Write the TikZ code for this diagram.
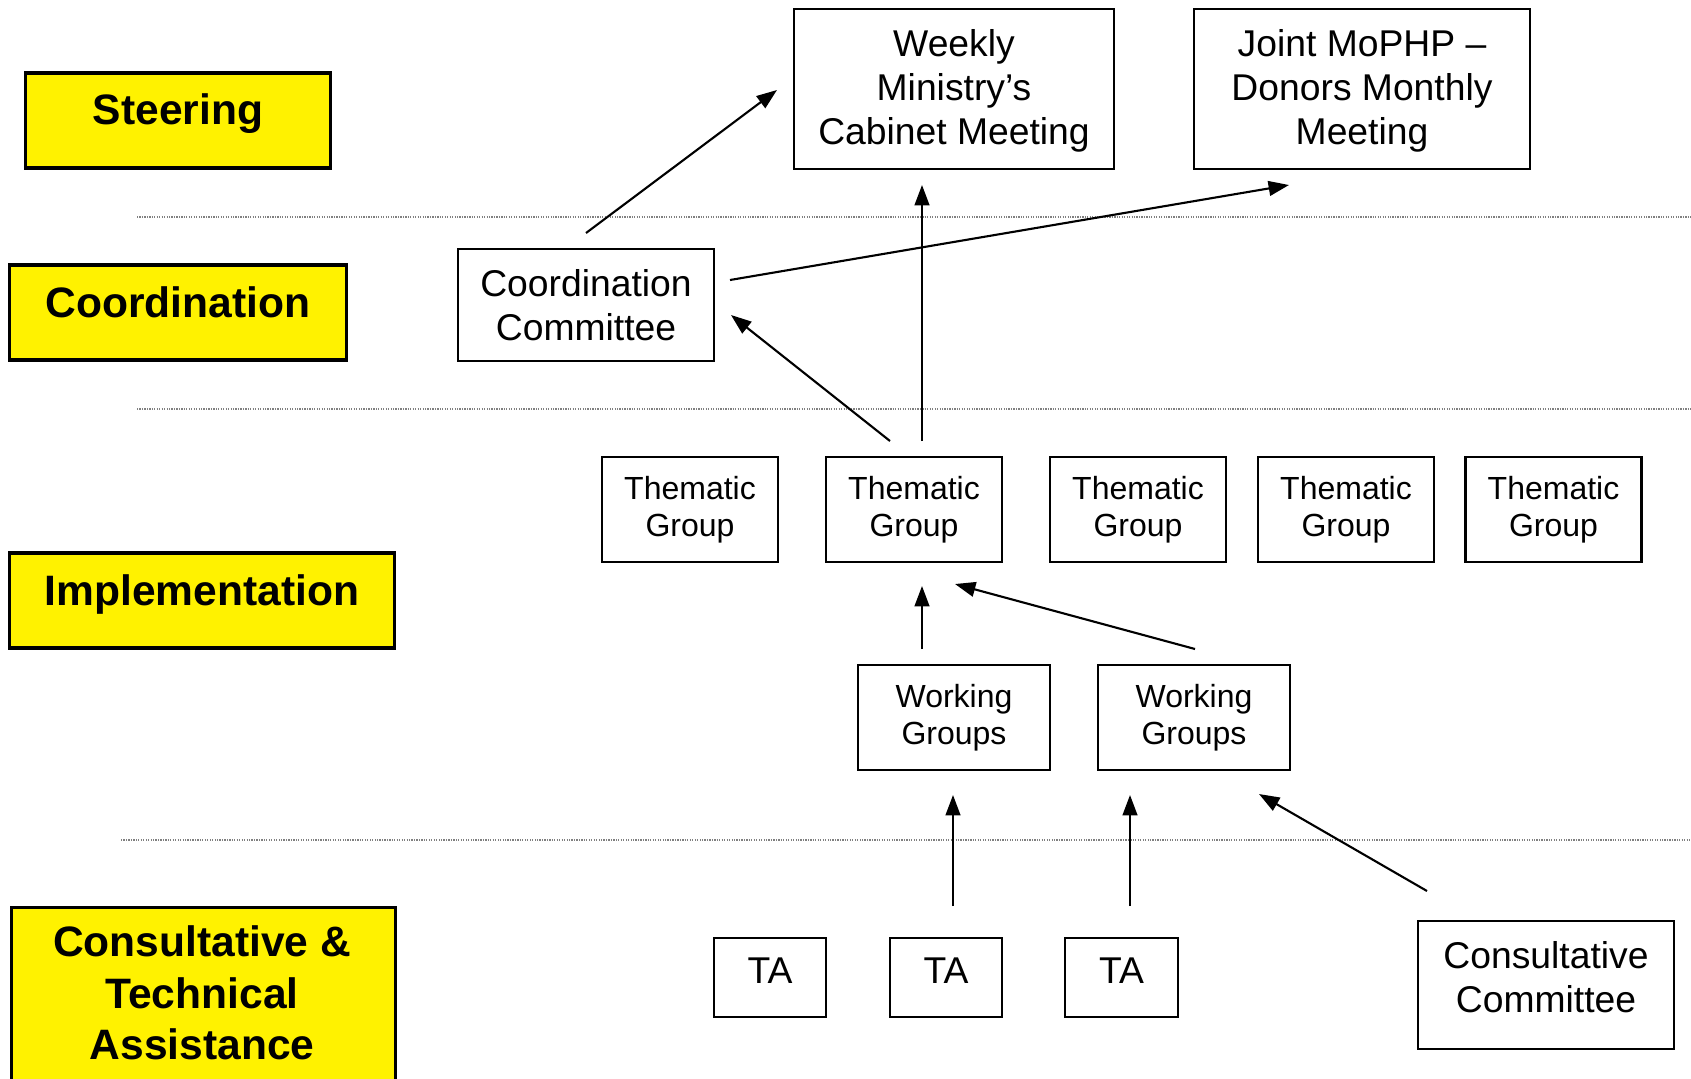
\documentclass[tikz,border=0pt]{standalone}
\usepackage{fontspec}
\setmainfont{Liberation Sans}
\usetikzlibrary{arrows.meta}
\begin{document}
\begin{tikzpicture}[x=0.01cm,y=-0.01cm,
  box/.style={draw, line width=0.75pt, inner sep=0pt, align=center, font=\fontsize{10.6}{12.5}\selectfont},
  sbox/.style={box, font=\fontsize{9.1}{10.5}\selectfont},
  ybox/.style={draw, line width=0.9pt, fill=yellow, inner sep=0pt},
  ytext/.style={font=\bfseries\fontsize{12.1}{14.7}\selectfont, align=center, inner sep=0pt},
  arr/.style={-{Triangle[length=5.8pt,width=4.2pt]}, line width=0.6pt},
  sepline/.style={draw=gray, line width=0.35pt, dash pattern=on 0.35pt off 0.35pt}]
\useasboundingbox (0,0) rectangle (1691,1078);
\clip (0,0) rectangle (1691,1078);

% separator lines
\draw[sepline] (137,217) -- (1691,217);
\draw[sepline] (137,409) -- (1691,409);
\draw[sepline] (121,840) -- (1691,840);

% yellow level boxes
\node[ybox, minimum width=3.04cm, minimum height=0.95cm] (steer) at (178,120.5) {};
\node[ytext] (steert) at (178,114) {Steering};
\node[ybox, minimum width=3.36cm, minimum height=0.95cm] (coordy) at (178,312.5) {};
\node[ytext] (coordyt) at (178,302) {Coordination};
\node[ybox, minimum width=3.84cm, minimum height=0.95cm] (impl) at (202,600.5) {};
\node[ytext] (implt) at (202,594) {Implementation};
\node[ybox, minimum width=3.84cm, minimum height=2.0cm, anchor=north west] (cons) at (10,906) {};
\node[ytext] (const) at (202,993) {Consultative \&\\Technical\\Assistance};

% boxes
\node[box, text depth=1.0pt, minimum width=3.20cm, minimum height=1.60cm] (weekly) at (954,89) {Weekly\\Ministry’s\\Cabinet Meeting};
\node[box, text depth=1.0pt, minimum width=3.36cm, minimum height=1.60cm] (joint) at (1362,89) {Joint MoPHP –\\Donors Monthly\\Meeting};
\node[box, minimum width=2.56cm, minimum height=1.12cm] (cc) at (586,305) {Coordination\\Committee};

\node[sbox, minimum width=1.76cm, minimum height=1.05cm] (tg1) at (690,509.5) {Thematic\\Group};
\node[sbox, minimum width=1.76cm, minimum height=1.05cm] (tg2) at (914,509.5) {Thematic\\Group};
\node[sbox, minimum width=1.76cm, minimum height=1.05cm] (tg3) at (1138,509.5) {Thematic\\Group};
\node[sbox, minimum width=1.76cm, minimum height=1.05cm] (tg4) at (1346,509.5) {Thematic\\Group};
\node[sbox, minimum width=1.76cm, minimum height=1.05cm] (tg5) at (1553.5,509.5) {Thematic\\Group};

\node[sbox, minimum width=1.92cm, minimum height=1.05cm] (wg1) at (954,717.5) {Working\\Groups};
\node[sbox, minimum width=1.92cm, minimum height=1.05cm] (wg2) at (1194,717.5) {Working\\Groups};

\node[box, text depth=3.7pt, minimum width=1.12cm, minimum height=0.79cm] (ta1) at (770,977.5) {TA};
\node[box, text depth=3.7pt, minimum width=1.12cm, minimum height=0.79cm] (ta2) at (946,977.5) {TA};
\node[box, text depth=3.7pt, minimum width=1.13cm, minimum height=0.79cm] (ta3) at (1121.5,977.5) {TA};

\node[box, text depth=4.5pt, minimum width=2.56cm, minimum height=1.28cm] (conscom) at (1546,985) {Consultative\\Committee};

% arrow end points
\coordinate (a1s) at (586,233);  \coordinate (a1e) at (777,90);
\coordinate (a2s) at (922,441);  \coordinate (a2e) at (922,185);
\coordinate (a3s) at (730,280);  \coordinate (a3e) at (1289,185);
\coordinate (a4s) at (890,441);  \coordinate (a4e) at (731,315);
\coordinate (a5s) at (922,649);  \coordinate (a5e) at (922,586);
\coordinate (a6s) at (1195,649); \coordinate (a6e) at (955,584);
\coordinate (a7s) at (953,906);  \coordinate (a7e) at (953,795);
\coordinate (a8s) at (1130,906); \coordinate (a8e) at (1130,795);
\coordinate (a9s) at (1427,891); \coordinate (a9e) at (1259,794);

\draw[arr] (a1s) -- (a1e);
\draw[arr] (a2s) -- (a2e);
\draw[arr] (a3s) -- (a3e);
\draw[arr] (a4s) -- (a4e);
\draw[arr] (a5s) -- (a5e);
\draw[arr] (a6s) -- (a6e);
\draw[arr] (a7s) -- (a7e);
\draw[arr] (a8s) -- (a8e);
\draw[arr] (a9s) -- (a9e);
\end{tikzpicture}
\end{document}
